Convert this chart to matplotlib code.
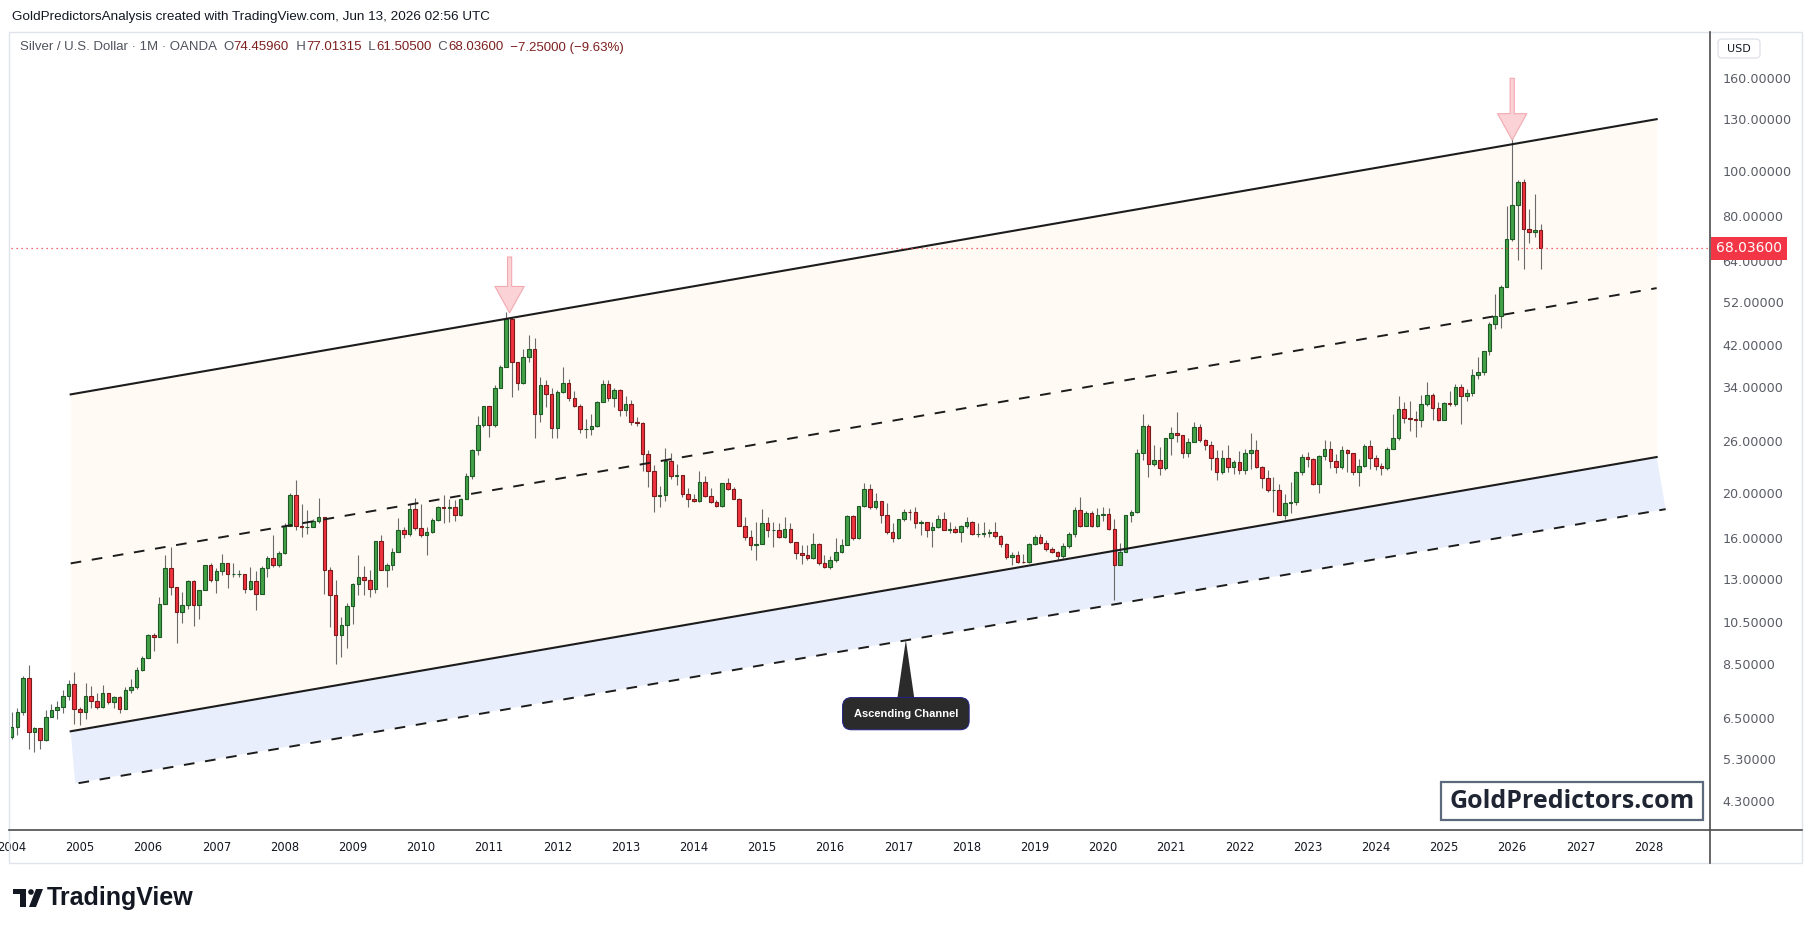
import matplotlib
matplotlib.use("Agg")
import numpy as np
import matplotlib.pyplot as plt
from matplotlib.patches import Rectangle, FancyBboxPatch, Polygon, Circle
from matplotlib.ticker import FixedLocator, NullLocator

# -------------------------------
# DATA: Silver / USD monthly candles, Jan 2004 - Jun 2026
# -------------------------------
start_year = 2004
first_open = 5.92

close = [
    6.22, 6.68, 7.93, 6.05, 6.17, 5.81, 6.52, 6.76, 6.88, 7.24, 7.69, 6.78,          # 2004
    6.71, 7.26, 7.08, 6.87, 7.35, 7.03, 7.20, 6.81, 7.46, 7.57, 8.25, 8.79,          # 2005
    9.83, 9.73, 11.51, 13.74, 12.53, 11.06, 11.41, 12.89, 11.41, 12.31, 13.94, 12.93,  # 2006
    13.54, 14.08, 13.36, 13.38, 13.38, 12.41, 12.87, 12.06, 13.74, 14.49, 13.94, 14.84,  # 2007
    16.95, 19.79, 16.95, 16.86, 16.86, 17.38, 17.73, 13.63, 12.00, 9.84, 10.35, 11.38,  # 2008
    12.69, 13.13, 12.95, 12.36, 15.74, 13.63, 13.96, 14.89, 16.65, 16.30, 18.45, 16.84,  # 2009
    16.20, 16.45, 17.50, 18.63, 18.55, 18.63, 17.94, 19.40, 21.80, 24.80, 28.08, 30.93,  # 2010
    28.08, 33.90, 37.60, 47.80, 38.50, 34.65, 39.60, 41.20, 29.80, 34.30, 32.86, 27.70,  # 2011
    33.20, 34.65, 32.15, 31.00, 27.60, 27.60, 28.00, 31.60, 34.50, 32.15, 33.50, 30.30,  # 2012
    31.30, 28.50, 28.40, 24.30, 22.30, 19.70, 19.80, 23.45, 21.80, 21.90, 19.90, 19.40,  # 2013
    19.20, 21.20, 19.75, 19.15, 18.80, 21.00, 20.40, 19.45, 17.00, 16.10, 15.40, 15.55,  # 2014
    17.20, 16.60, 16.60, 16.10, 16.70, 15.70, 14.80, 14.65, 14.50, 15.55, 14.10, 13.80,  # 2015
    14.30, 14.90, 15.40, 17.85, 15.95, 18.75, 20.40, 18.65, 19.20, 17.90, 16.50, 15.95,  # 2016
    17.55, 18.25, 18.20, 17.20, 17.30, 16.60, 16.90, 17.60, 16.60, 16.70, 16.45, 16.95,  # 2017
    17.30, 16.35, 16.35, 16.40, 16.45, 16.15, 15.50, 14.55, 14.70, 14.20, 14.15, 15.50,  # 2018
    16.05, 15.60, 15.10, 14.90, 14.60, 15.35, 16.30, 18.35, 17.00, 18.10, 17.00, 17.90,  # 2019
    18.00, 16.70, 13.95, 14.90, 17.90, 18.20, 24.40, 28.00, 23.20, 23.60, 22.70, 26.30,  # 2020
    27.00, 26.70, 24.40, 25.90, 27.80, 26.10, 25.50, 23.90, 22.20, 23.90, 22.80, 23.40,  # 2021
    22.50, 24.40, 24.80, 22.80, 21.60, 20.30, 20.35, 17.95, 19.00, 19.10, 22.20, 23.95,  # 2022
    23.75, 20.90, 24.05, 25.00, 23.50, 22.80, 24.80, 24.40, 22.20, 22.90, 25.30, 23.80,  # 2023
    22.90, 22.70, 24.90, 26.30, 30.50, 29.20, 29.00, 28.90, 31.20, 32.70, 30.60, 28.90,  # 2024
    31.40, 31.20, 34.10, 32.60, 33.00, 36.10, 36.70, 40.70, 46.60, 48.60, 56.20, 71.50,  # 2025
    84.50, 95.00, 74.85, 73.70, 74.46, 68.036,                                       # 2026
]

high = [
    6.70, 6.84, 8.00, 8.47, 6.22, 6.17, 6.76, 6.98, 7.06, 7.47, 7.86, 8.18,
    6.87, 7.74, 7.61, 7.37, 7.66, 7.35, 7.26, 7.26, 7.57, 7.88, 8.38, 8.84,
    9.89, 9.93, 11.92, 14.71, 15.25, 12.53, 12.20, 12.95, 12.95, 12.33, 14.00, 14.10,
    13.74, 14.73, 14.08, 14.08, 13.60, 13.38, 13.81, 13.58, 13.90, 14.59, 16.25, 15.00,
    17.20, 20.00, 21.36, 18.93, 18.40, 17.55, 19.50, 17.73, 13.86, 12.97, 10.79, 11.55,
    12.75, 14.67, 13.90, 13.60, 15.74, 16.20, 14.10, 15.24, 17.64, 16.90, 18.95, 19.50,
    18.95, 16.90, 17.64, 18.80, 19.80, 19.40, 19.30, 19.50, 22.10, 24.95, 29.40, 31.00,
    31.00, 34.30, 38.00, 49.60, 48.40, 38.60, 41.20, 44.20, 43.50, 35.70, 35.20, 33.90,
    33.60, 37.60, 35.50, 33.40, 31.30, 29.00, 29.80, 31.80, 35.20, 35.30, 33.90, 33.70,
    32.50, 31.90, 29.30, 28.60, 24.80, 23.00, 20.70, 25.10, 24.50, 23.10, 21.90, 20.50,
    19.90, 22.30, 21.80, 20.50, 19.30, 21.10, 21.60, 20.60, 19.50, 17.80, 16.60, 17.30,
    18.50, 17.80, 17.30, 17.20, 17.80, 17.20, 15.70, 15.40, 15.40, 16.40, 15.60, 14.70,
    14.60, 16.00, 15.90, 17.90, 17.90, 18.80, 21.10, 20.90, 20.00, 19.25, 19.00, 17.20,
    17.60, 18.45, 18.50, 18.70, 17.50, 17.30, 17.30, 17.90, 18.20, 17.30, 17.00, 17.10,
    17.80, 17.40, 17.20, 17.30, 16.70, 17.30, 16.20, 15.60, 14.90, 15.00, 14.75, 15.60,
    16.20, 16.30, 15.80, 15.30, 15.00, 15.60, 16.50, 18.70, 19.66, 18.30, 18.30, 18.60,
    18.70, 18.60, 17.60, 15.60, 17.95, 18.40, 25.00, 29.80, 28.30, 25.40, 25.20, 26.40,
    27.90, 30.00, 26.80, 26.40, 28.50, 28.30, 26.20, 26.00, 24.80, 24.80, 25.40, 23.60,
    24.70, 25.00, 27.00, 26.10, 22.90, 22.50, 21.70, 20.90, 19.90, 21.20, 22.30, 24.30,
    24.60, 23.80, 24.20, 26.10, 26.00, 24.30, 25.30, 25.00, 24.50, 23.70, 25.60, 26.10,
    24.20, 23.30, 25.20, 29.80, 32.50, 31.60, 31.70, 30.20, 32.70, 34.90, 33.00, 31.50,
    31.60, 33.40, 34.60, 34.60, 33.70, 37.30, 39.50, 40.80, 47.00, 54.30, 56.80, 84.30,
    122.00, 96.00, 96.50, 82.90, 89.20, 77.01315,
]

low = [
    5.85, 5.96, 6.60, 5.56, 5.47, 5.56, 5.79, 6.54, 6.45, 6.65, 7.12, 6.30,
    6.27, 6.48, 6.84, 6.81, 6.83, 6.98, 6.83, 6.67, 6.81, 7.35, 7.50, 8.23,
    8.76, 9.10, 9.73, 11.51, 12.02, 9.47, 10.47, 11.22, 10.31, 10.64, 12.31, 12.86,
    12.12, 13.28, 12.46, 13.17, 13.17, 12.16, 12.33, 11.13, 12.06, 13.13, 13.85, 13.81,
    14.76, 16.95, 16.63, 16.03, 16.35, 16.86, 17.27, 12.10, 10.24, 8.52, 8.83, 9.22,
    10.40, 12.02, 12.02, 11.93, 12.12, 13.63, 12.50, 13.63, 14.89, 16.00, 16.13, 16.65,
    16.10, 14.67, 16.37, 17.40, 17.20, 17.30, 17.45, 17.85, 19.40, 21.50, 24.20, 27.90,
    26.50, 27.90, 33.80, 37.60, 32.30, 33.60, 34.50, 38.50, 26.30, 28.50, 30.80, 26.40,
    26.40, 33.00, 31.80, 30.80, 27.00, 26.30, 26.70, 27.80, 31.60, 31.70, 30.80, 29.50,
    29.50, 28.20, 28.00, 22.40, 20.60, 18.20, 18.70, 19.20, 21.50, 20.80, 19.60, 18.70,
    19.10, 19.10, 19.60, 19.00, 18.70, 18.70, 20.30, 19.40, 16.95, 15.80, 15.05, 14.30,
    15.50, 16.10, 15.30, 16.00, 16.00, 15.60, 14.40, 14.05, 14.30, 14.40, 14.00, 13.75,
    13.70, 14.20, 14.80, 15.40, 15.80, 15.90, 18.70, 18.50, 18.50, 17.20, 16.30, 15.70,
    15.90, 17.40, 17.50, 16.80, 16.20, 16.10, 15.30, 16.80, 16.60, 16.40, 16.40, 15.70,
    16.80, 16.20, 16.10, 16.10, 16.10, 16.00, 15.30, 14.40, 13.95, 14.10, 14.10, 14.10,
    15.40, 15.50, 15.00, 14.80, 14.30, 14.50, 15.20, 16.10, 16.90, 17.00, 16.90, 16.90,
    17.40, 16.60, 11.70, 13.95, 14.90, 17.30, 18.10, 23.60, 21.70, 22.90, 21.90, 22.50,
    24.20, 25.80, 23.80, 24.00, 25.80, 25.80, 24.80, 22.50, 21.40, 22.00, 22.20, 22.00,
    22.00, 22.00, 22.60, 22.70, 20.50, 20.10, 18.20, 17.90, 17.60, 18.10, 18.90, 21.90,
    22.80, 20.80, 20.00, 23.60, 22.70, 22.10, 22.60, 22.20, 21.90, 20.70, 22.80, 22.60,
    22.50, 21.90, 22.50, 24.90, 26.10, 28.40, 27.30, 26.50, 27.90, 31.00, 28.80, 28.70,
    28.80, 31.00, 30.90, 28.30, 31.70, 32.60, 35.50, 36.20, 40.00, 45.50, 45.60, 56.00,
    70.50, 64.20, 61.30, 69.80, 72.10, 61.505,
]

# ascending channel drawn on the chart (year, price)
channel_x = [2004.865, 2028.118]
upper_line = [32.79, 129.9]
middle_line = [14.08, 55.8]
lower_line = [6.08, 23.97]
lower_dashed_x = [2004.98, 2028.25]
lower_dashed = [4.69, 18.47]

price_ticks = [4.3, 5.3, 6.5, 8.5, 10.5, 13, 16, 20, 26, 34, 42, 52, 64, 80, 100, 130, 160]
year_ticks = list(range(2004, 2029))
last_price = 68.036

# -------------------------------
# FIGURE
# -------------------------------
W, H = 1814, 932
fig = plt.figure(figsize=(W / 100, H / 100), dpi=100)
fig.patch.set_facecolor("white")

left, right, top, bottom = 11, 1710, 32.4, 829.5
ax = fig.add_axes([left / W, 1 - bottom / H, (right - left) / W, (bottom - top) / H])
ax.set_yscale("log")
ax.set_xlim(2003.99, 2028.90)
ax.set_ylim(3.72, 200.5)
for s in ax.spines.values():
    s.set_visible(False)

# channel fills
ax.fill_between(channel_x, lower_line, upper_line, color="#fffaf3", zorder=0, lw=0)
ax.fill([channel_x[0], channel_x[1], lower_dashed_x[1], 2004.93],
        [lower_line[0], lower_line[1], lower_dashed[1], lower_dashed[0]],
        color="#e8eefc", zorder=0, lw=0)

# candles
n = len(close)
x = start_year + np.arange(n) / 12.0
opens = [first_open] + close[:-1]
opens[-1] = 74.4596
for xi, o, h, l, c in zip(x, opens, high, low, close):
    up = c >= o
    fc = "#43a047" if up else "#ef3340"
    ec = "#1e5a26" if up else "#7a1a1a"
    ax.vlines(xi, min(l, o, c), max(h, o, c), color="#6b6b6b", lw=0.8, zorder=2)
    ax.bar(xi, abs(c - o), bottom=min(o, c), width=0.052, color=fc,
           edgecolor=ec, linewidth=0.8, zorder=3)

# channel lines
ax.plot(channel_x, upper_line, color="#1c1c1c", lw=1.5, zorder=4)
ax.plot(channel_x, lower_line, color="#1c1c1c", lw=1.5, zorder=4)
ax.plot(channel_x, middle_line, color="#1c1c1c", lw=1.4, ls=(0, (5.5, 5.5)), zorder=4)
ax.plot(lower_dashed_x, lower_dashed, color="#1c1c1c", lw=1.4, ls=(0, (5.5, 5.5)), zorder=4)

# last price line
ax.axhline(last_price, color="#f23645", lw=0.9, ls=(0, (1, 3)), zorder=4)

# peak arrows
arrow_style = "simple,head_length=19,head_width=21,tail_width=3"
for ax_x, tip, tail in [(2011.3, 49.3, 65.2), (2026.0, 117.0, 159.4)]:
    ax.annotate("", xy=(ax_x, tip), xytext=(ax_x, tail),
                arrowprops=dict(arrowstyle=arrow_style, mutation_scale=1,
                                fc="#fbd3d6", ec="#f2a9b0", lw=0.8,
                                shrinkA=0, shrinkB=0), zorder=5)

# ascending channel callout
ax.fill([2016.975, 2017.244, 2017.11], [7.0, 7.0, 9.6], color="#2b2b2b", zorder=6, lw=0)
ax.text(2017.11, 6.64, "Ascending Channel", ha="center", va="center", color="white",
        fontsize=8, fontweight="bold", family="Liberation Sans", zorder=7,
        bbox=dict(boxstyle="round,pad=1.0,rounding_size=0.8", fc="#2b2b2b",
                  ec="#22228a", lw=0.7))

# axes ticks
ax.yaxis.tick_right()
ax.yaxis.set_major_locator(FixedLocator(price_ticks))
ax.yaxis.set_minor_locator(NullLocator())
ax.set_yticklabels([f"{p:.5f}" for p in price_ticks])
ax.tick_params(axis="y", length=0, pad=9, labelsize=9.2, labelcolor="#5a5d66")
ax.xaxis.set_major_locator(FixedLocator(year_ticks))
ax.set_xticklabels([str(y) for y in year_ticks])
ax.tick_params(axis="x", length=0, pad=8, labelsize=8.3, labelcolor="#131722")

# last price label
ax.text(1.0035, last_price, f"{last_price:.5f}", transform=ax.get_yaxis_transform(),
        ha="left", va="center", color="white", fontsize=10, zorder=10, clip_on=False,
        bbox=dict(boxstyle="square,pad=0.35", fc="#f23645", ec="none"))

# -------------------------------
# OVERLAY: frame, header, logos
# -------------------------------
ov = fig.add_axes([0, 0, 1, 1], zorder=5)
ov.set_xlim(0, W)
ov.set_ylim(H, 0)
ov.set_axis_off()

ov.add_patch(Rectangle((9, 32), 1793, 831, fill=False, ec="#e0e3eb", lw=1))
ov.plot([9, 1802], [bottom, bottom], color="#4d4d4d", lw=1.2)
ov.plot([right, right], [32, 863], color="#4d4d4d", lw=1.2)

ov.text(12, 17, "GoldPredictorsAnalysis created with TradingView.com, Jun 13, 2026 02:56 UTC",
        fontsize=9.7, family="Liberation Sans", color="#131722", va="center")

pieces = [
    ("Silver / U.S. Dollar \u00b7 1M \u00b7 OANDA  ", "#50535e"),
    ("O", "#50535e"), ("74.45960", "#7d1f1f"),
    ("  H", "#50535e"), ("77.01315", "#7d1f1f"),
    ("  L", "#50535e"), ("61.50500", "#7d1f1f"),
    ("  C", "#50535e"), ("68.03600", "#7d1f1f"),
    ("  \u22127.25000 (\u22129.63%)", "#7d1f1f"),
]
renderer = fig.canvas.get_renderer()
px = 20
for s, col in pieces:
    t = ov.text(px, 47.5, s, fontsize=9.5, family="Liberation Sans", color=col, va="center")
    px += t.get_window_extent(renderer=renderer).width

ov.add_patch(FancyBboxPatch((1718, 39), 42, 19, boxstyle="round,pad=0,rounding_size=4",
                            fc="white", ec="#e0e3eb", lw=1))
ov.text(1739, 48.5, "USD", fontsize=8, ha="center", va="center", color="#131722")

# GoldPredictors watermark
ov.add_patch(Rectangle((1441, 782), 262, 38, fc="white", ec="#5b6b7d", lw=1.6))
ov.text(1572, 801.5, "GoldPredictors.com", fontsize=18, fontweight="bold",
        family="Open Sans", color="#1f2533", ha="center", va="center")

# TradingView logo
ov.add_patch(Rectangle((13, 889), 13, 5, color="#131722", lw=0))
ov.add_patch(Rectangle((20, 889), 6, 18, color="#131722", lw=0))
ov.add_patch(Circle((31, 892), 2.8, color="#131722", lw=0))
ov.add_patch(Polygon([(29, 907), (36, 889), (43, 889), (36, 907)], closed=True,
                     color="#131722", lw=0))
ov.text(47, 898, "TradingView", fontsize=18, fontweight="bold", family="Liberation Sans",
        color="#131722", va="center")

fig.savefig("out.png", dpi=100, facecolor="white")
